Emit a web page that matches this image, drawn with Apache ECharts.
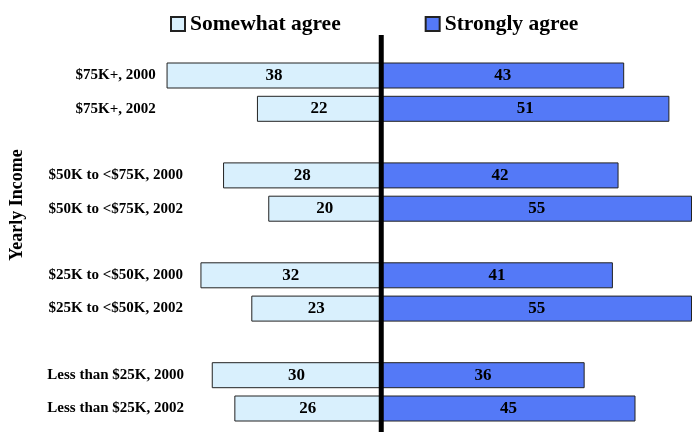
<!DOCTYPE html>
<html>
<head>
<meta charset="utf-8">
<script src="https://cdn.jsdelivr.net/npm/echarts@6/dist/echarts.min.js"></script>
<style>
  html, body { margin: 0; padding: 0; background: #fff; }
  #chart { width: 692px; height: 432px; }
</style>
</head>
<body>
<div id="chart"></div>
<script>
    var categories = ['$75K+, 2000', '$75K+, 2002', '$50K to <$75K, 2000', '$50K to <$75K, 2002',
                      '$25K to <$50K, 2000', '$25K to <$50K, 2002', 'Less than $25K, 2000', 'Less than $25K, 2002'];
    var somewhat = [38, 22, 28, 20, 32, 23, 30, 26];
    var strongly = [43, 51, 42, 55, 41, 55, 36, 45];

    // blank rows between the income groups
    var axisCats = [], leftData = [], rightData = [];
    categories.forEach(function (c, i) {
        axisCats.push(c);
        leftData.push(-somewhat[i]);
        rightData.push(strongly[i]);
        if (i % 2 === 1 && i < categories.length - 1) {
            axisCats.push('');
            leftData.push('-');
            rightData.push('-');
        }
    });

    var font = '"Liberation Serif", "Times New Roman", serif';
    var myChart = echarts.init(document.getElementById('chart'));

    var option = {
        animation: false,
        legend: {
            data: ['Somewhat agree', 'Strongly agree'],
            left: 170,
            top: 13,
            padding: 0,
            itemWidth: 14,
            itemHeight: 14,
            itemGap: 84,
            icon: 'rect',
            textStyle: { fontFamily: font, fontWeight: 'bold', fontSize: 21.5, color: '#000' }
        },
        grid: { left: 115.7, right: 0, top: 58.85, bottom: 6.85, outerBoundsMode: 'none' },
        xAxis: {
            type: 'value',
            min: -47,
            max: 55,
            show: false
        },
        yAxis: {
            type: 'category',
            data: axisCats,
            inverse: true,
            axisLine: { show: false, onZero: false },
            axisTick: { show: false },
            axisLabel: {
                align: 'center',
                margin: 0,
                fontFamily: font,
                fontWeight: 'bold',
                fontSize: 15,
                color: '#000'
            }
        },
        series: [
            {
                name: 'Somewhat agree',
                type: 'bar',
                data: leftData,
                barWidth: 26,
                barGap: '-100%',
                itemStyle: { color: '#d9f0fd', borderColor: '#222', borderWidth: 1 },
                label: {
                    show: true, position: 'inside',
                    fontFamily: font, fontWeight: 'bold', fontSize: 17, color: '#000',
                    formatter: function (p) { return Math.abs(p.value); }
                }
            },
            {
                name: 'Strongly agree',
                type: 'bar',
                data: rightData,
                barWidth: 26,
                itemStyle: { color: '#5479f7', borderColor: '#222', borderWidth: 1 },
                label: {
                    show: true, position: 'inside',
                    fontFamily: font, fontWeight: 'bold', fontSize: 17, color: '#000'
                }
            }
        ]
    };
    myChart.setOption(option);

    // center divider and rotated axis title
    var zeroX = myChart.convertToPixel({ xAxisIndex: 0 }, 0);
    myChart.setOption({
        graphic: [
            {
                type: 'line',
                shape: { x1: zeroX, y1: 35, x2: zeroX, y2: 432 },
                style: { stroke: '#000', lineWidth: 5 },
                z: 10
            },
            {
                type: 'text',
                x: 17, y: 205,
                rotation: Math.PI / 2,
                style: {
                    text: 'Yearly Income',
                    fontFamily: font, fontWeight: 'bold', fontSize: 18, fill: '#000',
                    align: 'center', verticalAlign: 'middle'
                }
            }
        ]
    });
</script>
</body>
</html>
